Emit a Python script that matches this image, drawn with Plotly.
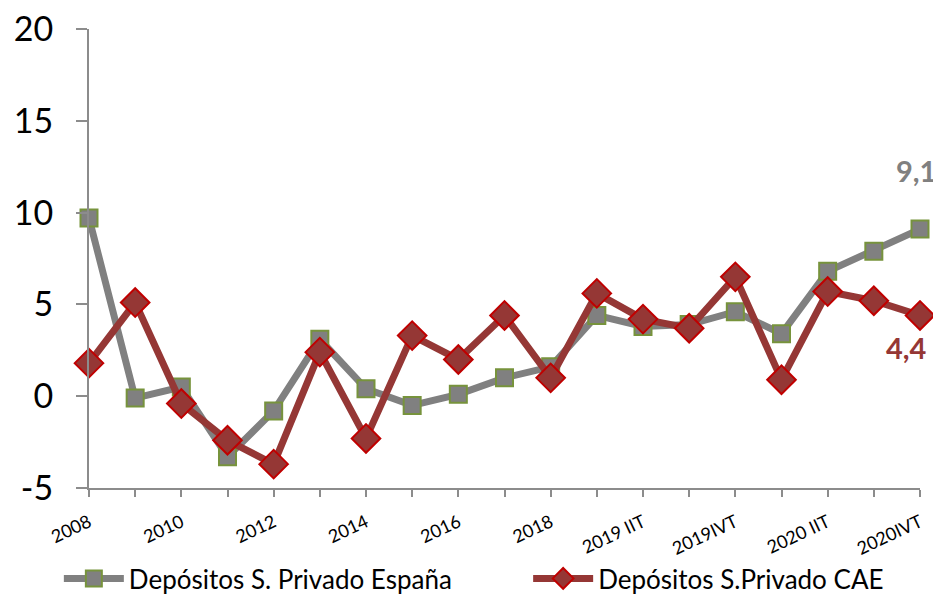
import plotly.graph_objects as go

categories = ["2008", "2009", "2010", "2011", "2012", "2013", "2014", "2015", "2016",
              "2017", "2018", "2019 IT", "2019 IIT", "2019 IIIT", "2019IVT",
              "2020 IT", "2020 IIT", "2020 IIIT", "2020IVT"]
espana = [9.7, -0.1, 0.5, -3.3, -0.8, 3.1, 0.4, -0.5, 0.1, 1.0, 1.6,
          4.4, 3.8, 3.9, 4.6, 3.4, 6.8, 7.9, 9.1]
cae = [1.8, 5.1, -0.4, -2.4, -3.7, 2.4, -2.3, 3.3, 2.0, 4.4, 1.0,
       5.6, 4.2, 3.7, 6.5, 0.9, 5.7, 5.2, 4.4]
tick_labels = ["2008", "", "2010", "", "2012", "", "2014", "", "2016", "",
               "2018", "", "2019 IIT", "", "2019IVT", "", "2020 IIT", "", "2020IVT"]
y_ticks = [-5, 0, 5, 10, 15, 20]
y_tick_labels = ["-5", "0", "5", "10", "15", "20"]
name_es = "Depósitos S. Privado España"
name_cae = "Depósitos S.Privado CAE"

FONT = "Lato, Carlito, Calibri, sans-serif"
GRAY = "#808080"
RED = "#953735"

fig = go.Figure()
fig.add_trace(go.Scatter(
    x=categories, y=espana, name=name_es, mode="lines+markers",
    line=dict(color=GRAY, width=7),
    marker=dict(symbol="square", size=17, color=GRAY,
                line=dict(color="#77933C", width=2)),
    cliponaxis=False, legend="legend",
))
fig.add_trace(go.Scatter(
    x=categories, y=cae, name=name_cae, mode="lines+markers",
    line=dict(color=RED, width=7),
    marker=dict(symbol="diamond", size=22, color=RED,
                line=dict(color="#C00000", width=2)),
    cliponaxis=False, legend="legend2",
))

fig.add_annotation(x=categories[-1], y=espana[-1],
                   text=f"{espana[-1]:.1f}".replace(".", ","),
                   showarrow=False, yshift=59, xshift=-4,
                   font=dict(family=FONT, size=29, color=GRAY, weight="bold"))
fig.add_annotation(x=categories[-1], y=cae[-1],
                   text=f"{cae[-1]:.1f}".replace(".", ","),
                   showarrow=False, yshift=-32, xshift=-14,
                   font=dict(family=FONT, size=29, color=RED, weight="bold"))

legend_common = dict(orientation="h", xref="container", yref="container",
                     yanchor="bottom", xanchor="left", y=0.0,
                     font=dict(family=FONT, size=26, color="black"),
                     itemwidth=60, bgcolor="rgba(0,0,0,0)")

# page body has an 8px default margin, so the figure is shrunk by 8px
fig.update_layout(
    width=933, height=594,
    margin=dict(l=81, r=21, t=21, b=114, autoexpand=False),
    paper_bgcolor="white", plot_bgcolor="white",
    font=dict(family=FONT, color="black"),
    showlegend=True,
    legend=dict(x=0.0545, **legend_common),
    legend2=dict(x=0.5575, **legend_common),
)
fig.update_xaxes(
    type="category", range=[0, 18], automargin=False,
    tickmode="array", tickvals=categories, ticktext=tick_labels,
    tickangle=-25, tickfont=dict(family=FONT, size=18, color="black"),
    ticklabelstandoff=8, ticklabeloverflow="allow",
    showline=True, linecolor="#8C8C8C", linewidth=2,
    ticks="outside", ticklen=7, tickcolor="#8C8C8C", tickwidth=2,
    showgrid=False, zeroline=False,
)
fig.update_yaxes(
    range=[-5, 20], automargin=False,
    tickmode="array", tickvals=y_ticks, ticktext=y_tick_labels,
    tickfont=dict(family=FONT, size=34, color="black"),
    ticklabelstandoff=16, ticklabeloverflow="allow",
    showline=True, linecolor="#8C8C8C", linewidth=2,
    ticks="outside", ticklen=11, tickcolor="#8C8C8C", tickwidth=2,
    showgrid=False, zeroline=False,
)

fig.write_html("out.html")
